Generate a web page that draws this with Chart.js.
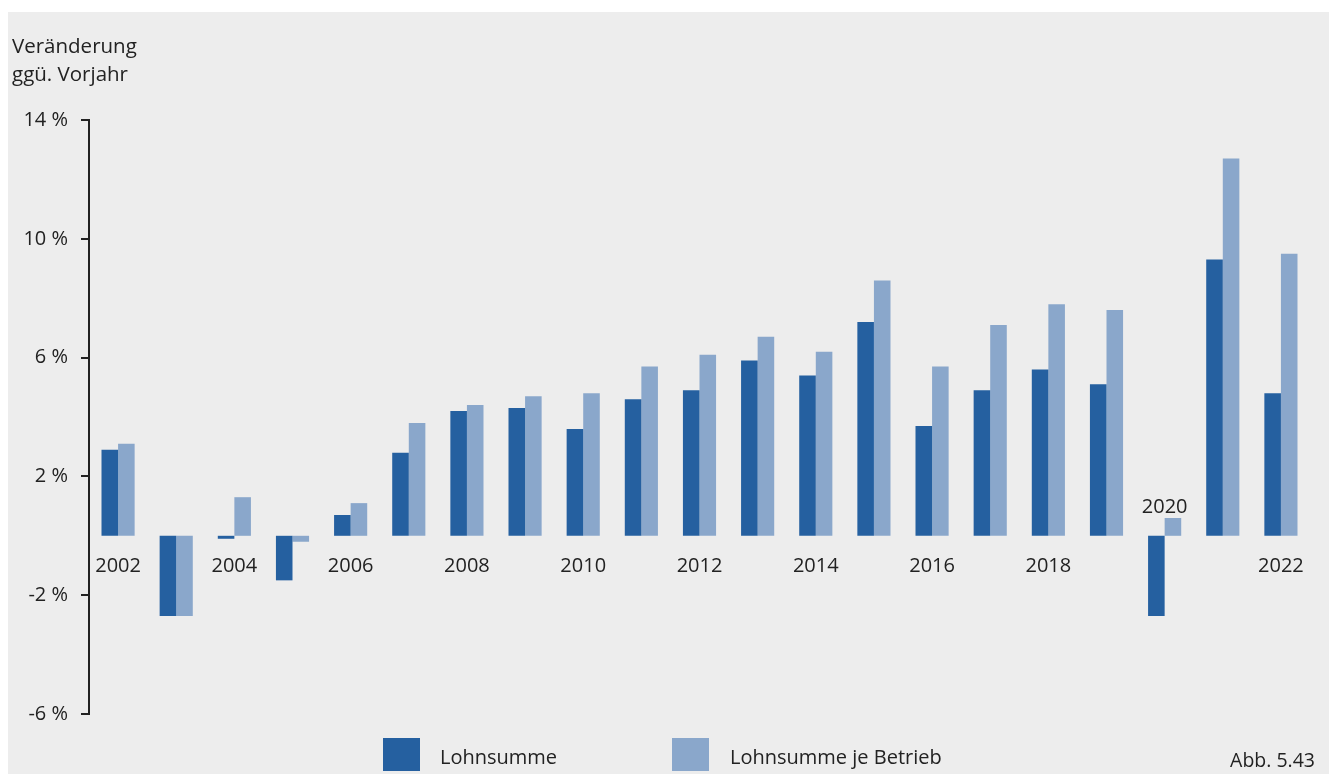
<!DOCTYPE html>
<html>
<head>
<meta charset="utf-8">
<script src="https://cdn.jsdelivr.net/npm/chart.js@4.4.0/dist/chart.umd.min.js"></script>
<style>
  body { margin: 0; background: #fff; }
  #wrap { position: absolute; left: 8px; top: 12px; width: 1321px; height: 762px; background: #ededed; }
</style>
</head>
<body>
<div id="wrap"><canvas id="chart" width="1321" height="762"></canvas></div>
<script>
// data
const years = ['2002','2003','2004','2005','2006','2007','2008','2009','2010','2011','2012',
               '2013','2014','2015','2016','2017','2018','2019','2020','2021','2022'];
const lohnsumme = [2.9, -2.7, -0.1, -1.5, 0.7, 2.8, 4.2, 4.3, 3.6, 4.6, 4.9,
                   5.9, 5.4, 7.2, 3.7, 4.9, 5.6, 5.1, -2.7, 9.3, 4.8];
const lohnsummeJeBetrieb = [3.1, -2.7, 1.3, -0.2, 1.1, 3.8, 4.4, 4.7, 4.8, 5.7, 6.1,
                            6.7, 6.2, 8.6, 5.7, 7.1, 7.8, 7.6, 0.6, 12.7, 9.5];
const shownYears = ['2002','2004','2006','2008','2010','2012','2014','2016','2018','2020','2022'];
const yTicks = [-6, -2, 2, 6, 10, 14];

const darkBlue = '#2560a0';
const lightBlue = '#8aa7cb';
const textColor = '#222';
const fontFamily = '"Open Sans", "Noto Sans", sans-serif';

// Draws year labels at the zero line, axis title, legend and figure number
const labelsPlugin = {
    id: 'labels',
    afterDraw(chart) {
        const ctx = chart.ctx;
        const x = chart.scales.x;
        const y = chart.scales.y;
        const zero = y.getPixelForValue(0);
        ctx.save();
        ctx.fillStyle = textColor;
        ctx.font = '20px ' + fontFamily;
        ctx.textAlign = 'center';
        ctx.textBaseline = 'middle';
        years.forEach((yr, i) => {
            if (!shownYears.includes(yr)) return;
            const px = x.getPixelForValue(i);
            // 2020 goes above the bars because the dark bar points down
            const py = yr === '2020' ? zero - 29 : zero + 30;
            ctx.fillText(yr, px, py);
        });

        // axis title
        ctx.textAlign = 'left';
        ctx.font = '20.5px ' + fontFamily;
        ctx.fillText('Veränderung', 4, 35);
        ctx.fillText('ggü. Vorjahr', 4, 63);

        // legend
        ctx.font = '20px ' + fontFamily;
        ctx.fillStyle = darkBlue;
        ctx.fillRect(375, 726, 37, 33);
        ctx.fillStyle = textColor;
        ctx.fillText('Lohnsumme', 432, 746);
        ctx.fillStyle = lightBlue;
        ctx.fillRect(664, 726, 37, 33);
        ctx.fillStyle = textColor;
        ctx.fillText('Lohnsumme je Betrieb', 722, 746);

        ctx.textAlign = 'right';
        ctx.font = '19.5px ' + fontFamily;
        ctx.fillText('Abb. 5.43', 1307, 749);
        ctx.restore();
    }
};

new Chart(document.getElementById('chart'), {
    type: 'bar',
    data: {
        labels: years,
        datasets: [
            { label: 'Lohnsumme', data: lohnsumme, backgroundColor: darkBlue },
            { label: 'Lohnsumme je Betrieb', data: lohnsummeJeBetrieb, backgroundColor: lightBlue }
        ]
    },
    options: {
        responsive: false,
        animation: false,
        layout: { padding: { top: 108, right: 19, bottom: 60, left: 0 } },
        datasets: { bar: { categoryPercentage: 0.57, barPercentage: 1 } },
        plugins: { legend: { display: false }, tooltip: { enabled: false } },
        scales: {
            x: { display: false, offset: true },
            y: {
                min: -6,
                max: 14,
                afterFit: s => { s.width = 81; },
                afterBuildTicks: s => { s.ticks = yTicks.map(v => ({ value: v })); },
                border: { display: true, color: textColor, width: 2 },
                grid: {
                    drawOnChartArea: true,
                    color: c => c.tick && c.tick.value === 0 ? textColor : 'transparent',
                    lineWidth: 2,
                    tickColor: textColor,
                    tickWidth: 2,
                    tickLength: 8
                },
                ticks: {
                    color: textColor,
                    padding: 13,
                    font: { size: 20, family: fontFamily },
                    callback: v => v + ' %'
                }
            }
        }
    },
    plugins: [labelsPlugin]
});
</script>
</body>
</html>
